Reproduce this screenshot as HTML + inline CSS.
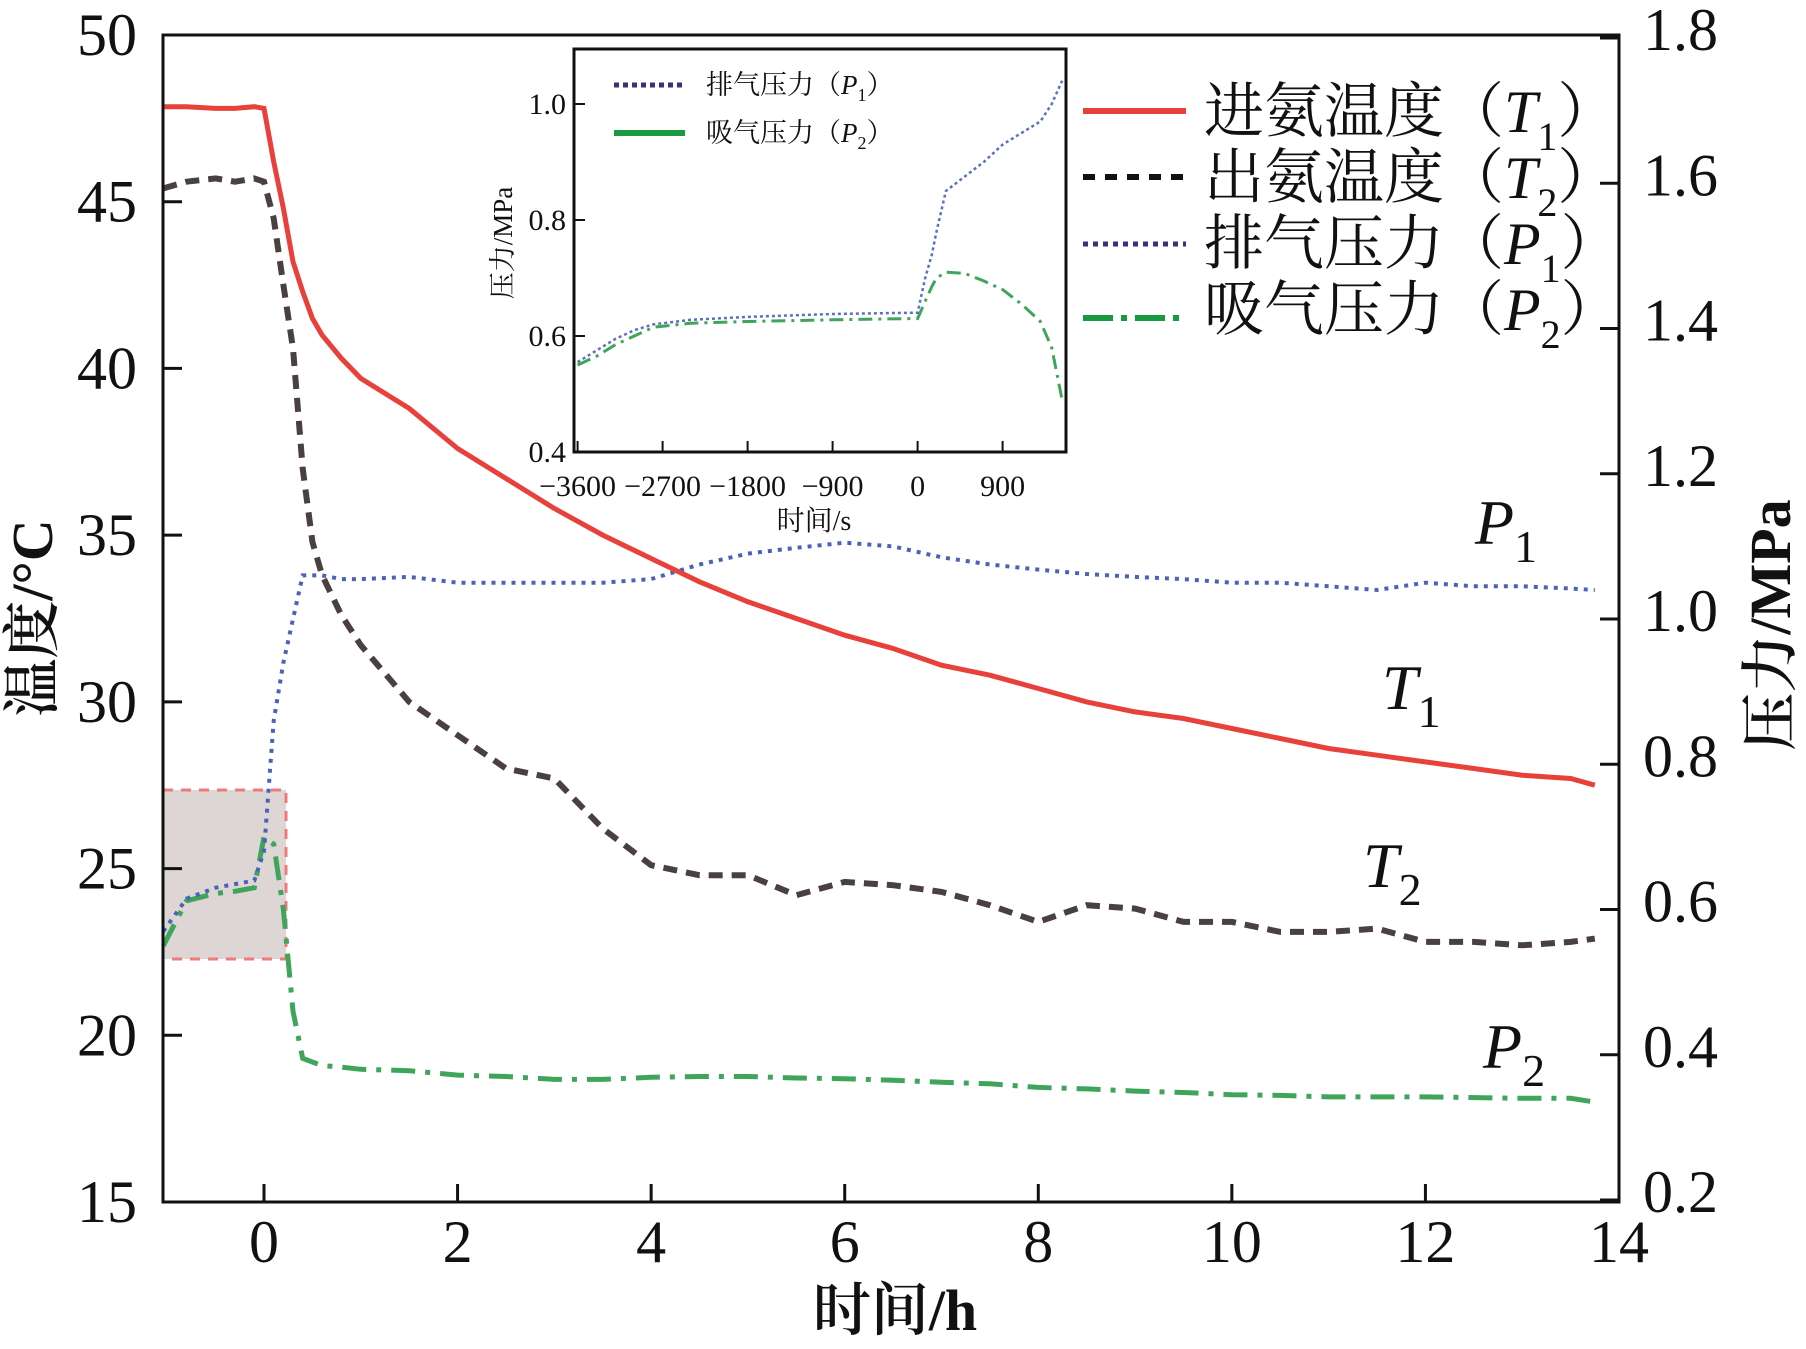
<!DOCTYPE html>
<html><head><meta charset="utf-8">
<style>
html,body{margin:0;padding:0;background:#fff;}
svg{display:block;}
.tk{font-family:"Liberation Serif","Noto Serif CJK SC",serif;font-size:60px;fill:#111;}
.cn{font-family:"Liberation Serif","Noto Serif CJK SC",serif;fill:#111;}
.it{font-style:italic;}
</style></head>
<body>
<svg id="chart" width="1806" height="1349" viewBox="0 0 1806 1349" xmlns="http://www.w3.org/2000/svg">
<rect x="163" y="790" width="123" height="169" fill="#ddd6d4" stroke="#f07a7a" stroke-width="3" stroke-dasharray="10,8"/>
<g id="marks"></g>
<rect x="163" y="35" width="1456" height="1167" fill="none" stroke="#111" stroke-width="3"/>
<g id="axes"></g>
<text class="cn" font-size="58" font-weight="600" x="895" y="1330" text-anchor="middle">时间/h</text>
<text class="cn" font-size="58" font-weight="600" transform="translate(52,618) rotate(-90)" text-anchor="middle">温度/°C</text>
<text class="cn" font-size="58" font-weight="600" transform="translate(1790,625) rotate(-90)" text-anchor="middle">压力/MPa</text>
<g>
<line x1="1083" y1="111" x2="1186" y2="111" stroke="#e8403a" stroke-width="6"/>
<line x1="1083" y1="177" x2="1186" y2="177" stroke="#111" stroke-width="6" stroke-dasharray="12,10"/>
<line x1="1083" y1="244" x2="1186" y2="244" stroke="#3a2f7a" stroke-width="5" stroke-dasharray="5,5"/>
<line x1="1083" y1="318" x2="1186" y2="318" stroke="#1a9a40" stroke-width="6" stroke-dasharray="30,8,6,8"/>
<text class="cn" font-size="60" x="1204" y="132">进氨温度（<tspan class="it">T</tspan><tspan font-size="40" dy="18">1</tspan><tspan dy="-18">）</tspan></text>
<text class="cn" font-size="60" x="1204" y="198">出氨温度（<tspan class="it">T</tspan><tspan font-size="40" dy="18">2</tspan><tspan dy="-18">）</tspan></text>
<text class="cn" font-size="60" x="1204" y="264">排气压力（<tspan class="it">P</tspan><tspan font-size="40" dy="18">1</tspan><tspan dy="-18">）</tspan></text>
<text class="cn" font-size="60" x="1204" y="330">吸气压力（<tspan class="it">P</tspan><tspan font-size="40" dy="18">2</tspan><tspan dy="-18">）</tspan></text>
</g>
<text class="cn" font-size="64" x="1475" y="544"><tspan class="it">P</tspan><tspan font-size="46" dy="18">1</tspan></text>
<text class="cn" font-size="64" x="1382" y="709"><tspan class="it">T</tspan><tspan font-size="46" dy="18">1</tspan></text>
<text class="cn" font-size="64" x="1363" y="887"><tspan class="it">T</tspan><tspan font-size="46" dy="18">2</tspan></text>
<text class="cn" font-size="64" x="1483" y="1068"><tspan class="it">P</tspan><tspan font-size="46" dy="18">2</tspan></text>
<g id="inset">
<rect x="574" y="49" width="492" height="403" fill="#fff" stroke="#111" stroke-width="3"/>
<g id="imarks"></g>
<g id="iaxes"></g>
<line x1="614" y1="85" x2="685" y2="85" stroke="#3a2f7a" stroke-width="5" stroke-dasharray="5,4"/>
<line x1="614" y1="133" x2="685" y2="133" stroke="#1a9a40" stroke-width="6"/>
<text class="cn" font-size="27" x="706" y="94">排气压力（<tspan class="it">P</tspan><tspan font-size="18" dy="7">1</tspan><tspan dy="-7">）</tspan></text>
<text class="cn" font-size="27" x="706" y="142">吸气压力（<tspan class="it">P</tspan><tspan font-size="18" dy="7">2</tspan><tspan dy="-7">）</tspan></text>
<text class="cn" font-size="28" x="814" y="530" text-anchor="middle">时间/s</text>
<text class="cn" font-size="27" transform="translate(512,243) rotate(-90)" text-anchor="middle">压力/MPa</text>
</g>
</svg>
<script>
// main chart data
const hours = [-1.04,-0.8,-0.5,-0.3,-0.1,0,0.1,0.2,0.3,0.4,0.5,0.6,0.8,1,1.5,2,2.5,3,3.5,4,4.5,5,5.5,6,6.5,7,7.5,8,8.5,9,9.5,10,10.5,11,11.5,12,12.5,13,13.5,13.75];
const t1Vals = [47.85,47.85,47.8,47.8,47.85,47.8,46.2,44.8,43.2,42.3,41.5,41,40.3,39.7,38.8,37.6,36.7,35.8,35,34.3,33.6,33,32.5,32,31.6,31.1,30.8,30.4,30.0,29.7,29.5,29.2,28.9,28.6,28.4,28.2,28.0,27.8,27.7,27.5];
const t2Vals = [45.4,45.6,45.7,45.6,45.7,45.6,44.5,42.5,40.6,37,34.8,33.8,32.6,31.7,30,29,28,27.7,26.2,25.1,24.8,24.8,24.2,24.6,24.5,24.3,23.9,23.4,23.9,23.8,23.4,23.4,23.1,23.1,23.2,22.8,22.8,22.7,22.8,22.9];
const p1Vals = [0.57,0.615,0.63,0.635,0.64,0.68,0.86,0.94,1.0,1.06,1.06,1.06,1.055,1.055,1.058,1.05,1.05,1.05,1.05,1.055,1.075,1.09,1.098,1.105,1.1,1.085,1.075,1.068,1.062,1.058,1.055,1.05,1.05,1.045,1.04,1.05,1.045,1.045,1.042,1.04];
const p2Vals = [0.55,0.612,0.622,0.625,0.63,0.7,0.69,0.6,0.46,0.395,0.39,0.385,0.383,0.38,0.378,0.372,0.37,0.366,0.366,0.369,0.37,0.37,0.368,0.367,0.365,0.362,0.36,0.355,0.353,0.35,0.348,0.345,0.344,0.342,0.342,0.342,0.341,0.34,0.34,0.335];
const xTicks = [0,2,4,6,8,10,12,14];
const yLeftTicks = [15,20,25,30,35,40,45,50];
const yRightTicks = [0.2,0.4,0.6,0.8,1.0,1.2,1.4,1.6,1.8];
// inset data
const secs = [-3600,-3400,-3200,-3000,-2800,-2400,-1800,-900,-100,0,80,150,200,300,500,700,900,1100,1300,1420,1530];
const ip1Vals = [0.555,0.575,0.595,0.61,0.62,0.628,0.633,0.638,0.64,0.64,0.7,0.74,0.78,0.85,0.875,0.9,0.93,0.95,0.97,1.0,1.04];
const ip2Vals = [0.55,0.565,0.585,0.6,0.615,0.622,0.625,0.628,0.63,0.63,0.66,0.685,0.70,0.71,0.708,0.695,0.68,0.655,0.625,0.58,0.49];
const ixTicks = [-3600,-2700,-1800,-900,0,900];
const iyTicks = [0.4,0.6,0.8,1.0];

const NS='http://www.w3.org/2000/svg';
const X=h=>264+(h)*(1619-264)/14;
const YL=v=>1202-(v-15)*(1202-35)/35;
const YR=v=>1200-(v-0.2)*(1200-38)/1.6;
const IX=s=>917.6+s*(85/900);
const IY=v=>452-(v-0.4)*(452-104)/0.6;
function mk(tag,attrs,parent){const e=document.createElementNS(NS,tag);for(const k in attrs)e.setAttribute(k,attrs[k]);parent.appendChild(e);return e;}
function pts(xs,ys,fx,fy){return xs.map((x,i)=>fx(x).toFixed(1)+','+fy(ys[i]).toFixed(1)).join(' ');}
const marks=document.getElementById('marks'), axes=document.getElementById('axes');
let e;
e=mk('polyline',{points:pts(hours,p2Vals,X,YR),fill:'none',stroke:'#3fa55a','stroke-width':5,'stroke-dasharray':'24,10,5,10'},marks);


e=mk('polyline',{points:pts(hours,p1Vals,X,YR),fill:'none',stroke:'#4a63b8','stroke-width':4,'stroke-dasharray':'4,6'},marks);


e=mk('polyline',{points:pts(hours,t2Vals,X,YL),fill:'none',stroke:'#4a4040','stroke-width':6,'stroke-dasharray':'14,9'},marks);


e=mk('polyline',{points:pts(hours,t1Vals,X,YL),fill:'none',stroke:'#e8403a','stroke-width':5},marks);


xTicks.forEach(t=>{
  e=mk('line',{x1:X(t),x2:X(t),y1:1202,y2:1184,stroke:'#111','stroke-width':3},axes);
  
  
  e=mk('text',{x:X(t),y:1262,'text-anchor':'middle',class:'tk'},axes);e.textContent=t;
  
  
});
yLeftTicks.forEach(t=>{
  e=mk('line',{x1:163,x2:182,y1:YL(t),y2:YL(t),stroke:'#111','stroke-width':3},axes);
  
  
  e=mk('text',{x:137,y:YL(t)+20,'text-anchor':'end',class:'tk'},axes);e.textContent=t;
  
  
});
yRightTicks.forEach(t=>{
  e=mk('line',{x1:1600,x2:1619,y1:YR(t),y2:YR(t),stroke:'#111','stroke-width':3},axes);
  
  
  e=mk('text',{x:1643,y:YR(t)+12,'text-anchor':'start',class:'tk'},axes);e.textContent=t.toFixed(1);
  
  
});
const im=document.getElementById('imarks'), ia=document.getElementById('iaxes');
e=mk('polyline',{points:pts(secs,ip2Vals,IX,IY),fill:'none',stroke:'#3fa55a','stroke-width':3,'stroke-dasharray':'14,6,3,6'},im);


e=mk('polyline',{points:pts(secs,ip1Vals,IX,IY),fill:'none',stroke:'#5a70c0','stroke-width':2.5,'stroke-dasharray':'3,3'},im);


ixTicks.forEach(t=>{
  e=mk('line',{x1:IX(t),x2:IX(t),y1:452,y2:441,stroke:'#111','stroke-width':2},ia);
  
  
  e=mk('text',{x:IX(t),y:496,'text-anchor':'middle',class:'cn','font-size':30},ia);e.textContent=(t<0?'\u2212'+(-t):t);
  
  
});
iyTicks.forEach(t=>{
  e=mk('line',{x1:574,x2:585,y1:IY(t),y2:IY(t),stroke:'#111','stroke-width':2},ia);
  
  
  e=mk('text',{x:566,y:IY(t)+10,'text-anchor':'end',class:'cn','font-size':30},ia);e.textContent=t.toFixed(1);
  
  
});
</script>
</body></html>
